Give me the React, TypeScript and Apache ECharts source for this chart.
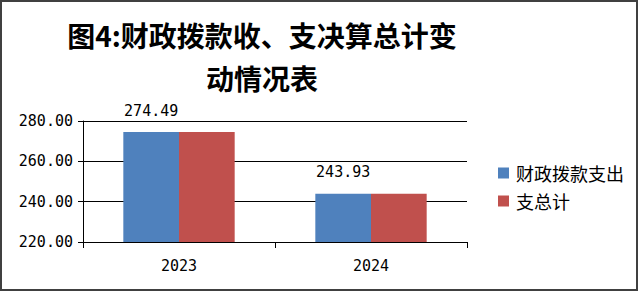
import React, { useEffect, useRef } from "react";
import * as echarts from "echarts";

const categories = ["2023", "2024"];
const seriesNames = ["财政拨款支出", "支总计"];
const appropriationValues = [274.49, 243.93];
const totalValues = [274.49, 243.93];
const yTicks = { min: 220, max: 280, interval: 20 };
const titleLines = ["图4:财政拨款收、支决算总计变", "动情况表"];

const numFont = "'DejaVu Sans Mono', 'Liberation Mono', monospace";
const cjkFont = "'Noto Sans CJK SC', sans-serif";

export default function App() {
  const ref = useRef<HTMLDivElement>(null);
  useEffect(() => {
    document.body.style.margin = "0";
    const chart = echarts.init(ref.current!, null, { renderer: "svg" });
    chart.setOption({
      animation: false,
      backgroundColor: "#ffffff",
      graphic: [
        {
          type: "rect",
          shape: { x: 1, y: 1, width: 636, height: 289 },
          style: { fill: "none", stroke: "#404040", lineWidth: 2 },
          z: 0,
        },
        {
          type: "text",
          x: 262,
          y: 13,
          style: {
            text: titleLines.join("\n"),
            textAlign: "center",
            fontSize: 28,
            lineHeight: 43,
            fontWeight: "bold",
            fontFamily: cjkFont,
            fill: "#000000",
          },
        },
      ],
      legend: {
        orient: "vertical",
        left: 493,
        top: 159,
        itemWidth: 11,
        itemHeight: 11,
        itemGap: 10,
        icon: "rect",
        textStyle: {
          fontSize: 18,
          fontFamily: cjkFont,
          color: "#000000",
          padding: [0, 0, 0, 2],
        },
        data: seriesNames,
      },
      grid: { left: 83, right: 173, top: 121, bottom: 50 },
      xAxis: {
        type: "category",
        data: categories,
        axisLine: { show: true, lineStyle: { color: "#000000", width: 1 } },
        axisTick: { show: true, length: 6, alignWithLabel: false, lineStyle: { color: "#000000" } },
        axisLabel: { margin: 16, fontSize: 15, fontFamily: numFont, color: "#000000" },
      },
      yAxis: {
        type: "value",
        min: yTicks.min,
        max: yTicks.max,
        interval: yTicks.interval,
        axisLine: { show: true, lineStyle: { color: "#000000", width: 1 } },
        axisTick: { show: true, length: 5, lineStyle: { color: "#000000" } },
        splitLine: { show: true, lineStyle: { color: "#000000", width: 1 } },
        axisLabel: {
          margin: 10,
          fontSize: 15,
          fontFamily: numFont,
          color: "#000000",
          formatter: (v: number) => v.toFixed(2),
        },
      },
      series: [
        {
          name: seriesNames[0],
          type: "bar",
          data: appropriationValues,
          barGap: "0%",
          barCategoryGap: "42%",
          itemStyle: { color: "#4F81BD" },
          label: {
            show: true,
            position: "top",
            distance: 14,
            fontSize: 15,
            fontFamily: numFont,
            color: "#000000",
            formatter: (p: any) => Number(p.value).toFixed(2),
          },
        },
        {
          name: seriesNames[1],
          type: "bar",
          data: totalValues,
          barGap: "0%",
          barCategoryGap: "42%",
          itemStyle: { color: "#C0504D" },
        },
      ],
    });
    return () => chart.dispose();
  }, []);
  return (
    <div
      ref={ref}
      style={{ position: "absolute", left: 0, top: 0, width: 640, height: 292 }}
    />
  );
}
